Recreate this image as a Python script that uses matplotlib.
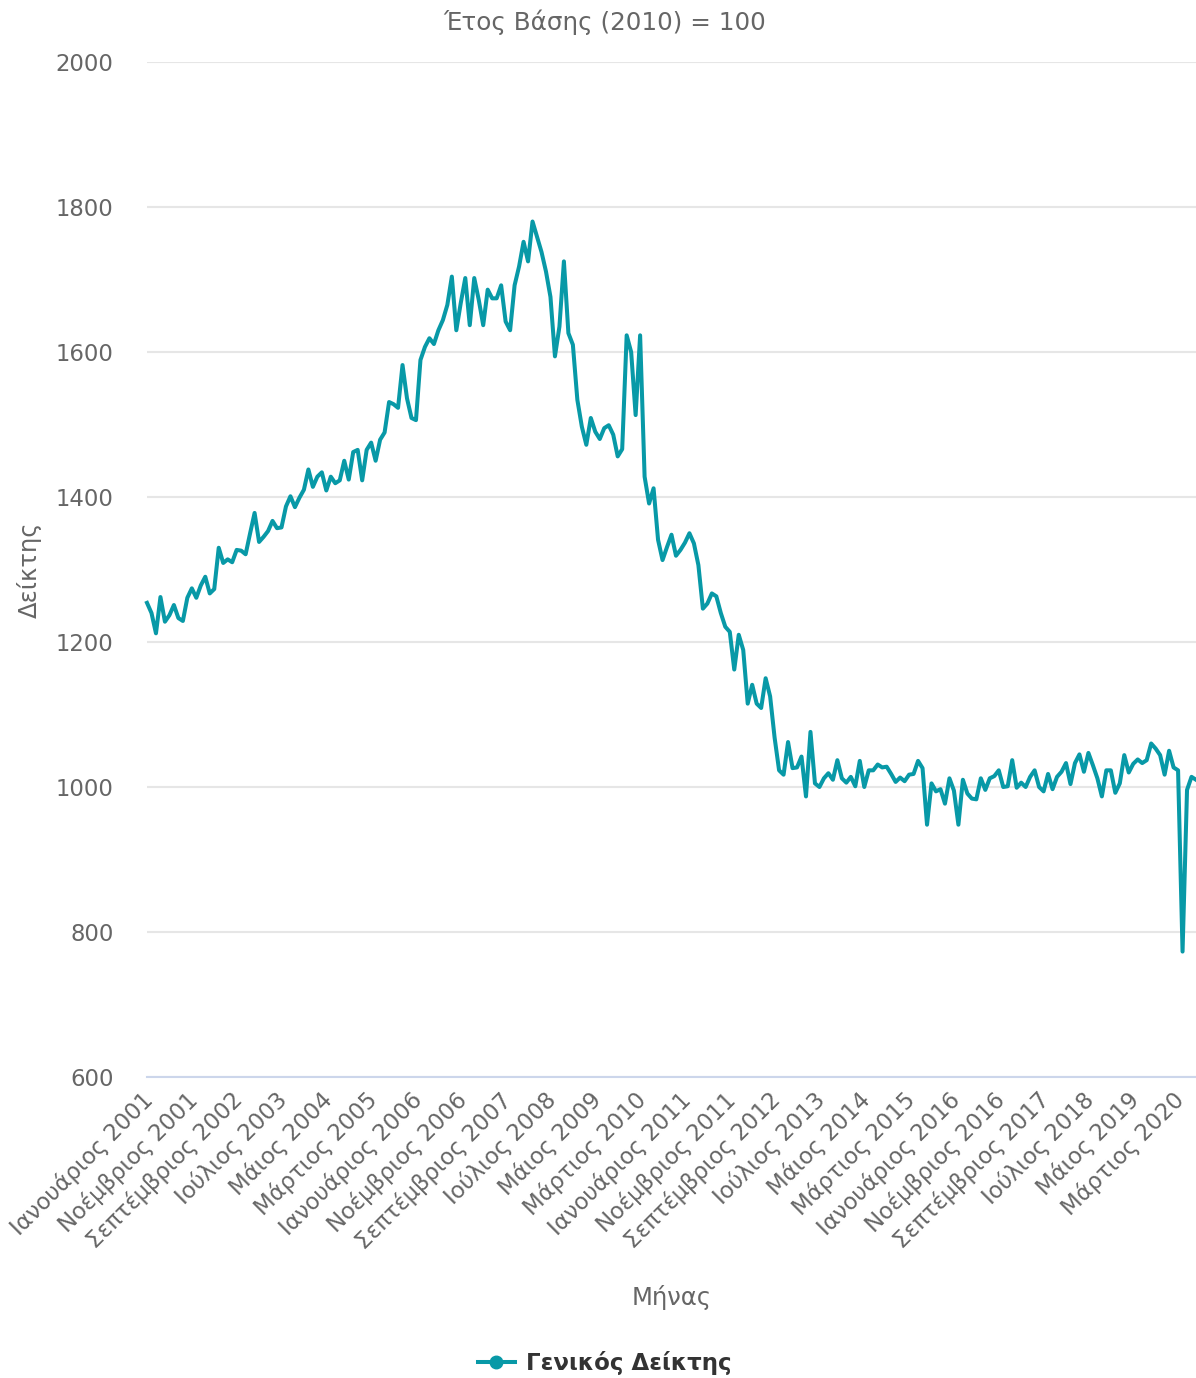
import matplotlib
matplotlib.use("Agg")
import matplotlib.pyplot as plt
import matplotlib.transforms as mtransforms
from matplotlib.lines import Line2D

plt.rcParams['font.family'] = ['DejaVu Sans']

# monthly values, Jan 2001 - Jul 2020
v2001 = [1254, 1240, 1212, 1262, 1228, 1237, 1251, 1233, 1229, 1261, 1274, 1261]
v2002 = [1278, 1290, 1267, 1273, 1330, 1309, 1314, 1310, 1327, 1326, 1321, 1350]
v2003 = [1378, 1338, 1345, 1353, 1367, 1357, 1358, 1387, 1401, 1386, 1399, 1410]
v2004 = [1438, 1414, 1428, 1434, 1409, 1428, 1419, 1423, 1450, 1424, 1462, 1465]
v2005 = [1423, 1465, 1475, 1450, 1479, 1489, 1531, 1528, 1523, 1582, 1536, 1509]
v2006 = [1506, 1589, 1607, 1619, 1611, 1630, 1644, 1665, 1704, 1630, 1668, 1702]
v2007 = [1637, 1702, 1672, 1637, 1686, 1674, 1674, 1692, 1642, 1630, 1692, 1718]
v2008 = [1752, 1725, 1780, 1759, 1738, 1711, 1676, 1594, 1635, 1725, 1626, 1610]
v2009 = [1534, 1497, 1472, 1509, 1490, 1480, 1495, 1499, 1486, 1456, 1466, 1623]
v2010 = [1600, 1513, 1623, 1428, 1391, 1412, 1341, 1313, 1331, 1348, 1319, 1327]
v2011 = [1337, 1350, 1336, 1306, 1246, 1253, 1267, 1263, 1240, 1221, 1214, 1162]
v2012 = [1210, 1189, 1115, 1141, 1115, 1109, 1150, 1125, 1068, 1023, 1017, 1062]
v2013 = [1026, 1027, 1042, 987, 1076, 1005, 1000, 1012, 1019, 1010, 1037, 1012]
v2014 = [1006, 1014, 1001, 1036, 1000, 1023, 1023, 1031, 1027, 1028, 1018, 1007]
v2015 = [1013, 1008, 1017, 1018, 1036, 1026, 948, 1005, 994, 997, 977, 1012]
v2016 = [995, 948, 1010, 991, 984, 983, 1012, 996, 1012, 1015, 1023, 1000]
v2017 = [1001, 1037, 999, 1006, 1000, 1014, 1023, 1000, 994, 1018, 997, 1014]
v2018 = [1021, 1033, 1004, 1033, 1045, 1021, 1047, 1030, 1012, 987, 1023, 1023]
v2019 = [992, 1005, 1044, 1020, 1032, 1038, 1033, 1037, 1060, 1053, 1044, 1017]
v2020 = [1050, 1027, 1023, 773, 996, 1014, 1010]

months = ["Ιανουάριος", "Φεβρουάριος", "Μάρτιος", "Απρίλιος", "Μάιος", "Ιούνιος",
          "Ιούλιος", "Αύγουστος", "Σεπτέμβριος", "Οκτώβριος", "Νοέμβριος", "Δεκέμβριος"]
start_year = 2001

values = (v2001 + v2002 + v2003 + v2004 + v2005 + v2006 + v2007 + v2008 + v2009 + v2010
          + v2011 + v2012 + v2013 + v2014 + v2015 + v2016 + v2017 + v2018 + v2019 + v2020)
labels = [f"{months[i % 12]} {start_year + i // 12}" for i in range(len(values))]
xs = list(range(len(values)))

color = '#0899a7'
grey = '#666666'

fig = plt.figure(figsize=(11.96, 13.78), dpi=100)
ax = fig.add_axes([147 / 1196, 1 - 1077 / 1378, 1049 / 1196, 1015 / 1378])

ax.plot(xs, values, color=color, lw=2.9, solid_joinstyle='round', clip_on=False, zorder=3)

ax.set_xlim(0, len(values) - 1)
ax.set_ylim(600, 2000)
ax.set_yticks(range(600, 2001, 200))
ax.grid(axis='y', color='#e6e6e6', lw=1.5)
ax.set_axisbelow(True)

tick_pos = xs[::10]
ax.set_xticks(tick_pos)
ax.set_xticklabels([labels[i] for i in tick_pos], rotation=45, ha='right', va='top',
                   rotation_mode='anchor')
ax.tick_params(axis='x', length=0, pad=8, labelsize=16.4, labelcolor=grey)
ax.tick_params(axis='y', length=0, pad=24, labelsize=16.4, labelcolor=grey)
# nudge rotated labels so their ends sit on the tick
shift = mtransforms.ScaledTranslation(-6 / 100, 0, fig.dpi_scale_trans)
for lbl in ax.get_xticklabels():
    lbl.set_transform(lbl.get_transform() + shift)

for s in ['top', 'right', 'left']:
    ax.spines[s].set_visible(False)
ax.spines['bottom'].set_color('#ccd6eb')
ax.spines['bottom'].set_linewidth(1.5)

ax.set_ylabel("Δείκτης", fontsize=17.5, color=grey)
ax.yaxis.set_label_coords(-0.100, 0.5)
ax.set_xlabel("Μήνας", fontsize=17.5, color=grey)
ax.xaxis.set_label_coords(0.50, -0.205)
fig.text(605 / 1196, 1 - 22 / 1378, "Έτος Βάσης (2010) = 100", ha='center', va='center',
         fontsize=17.7, color=grey)

handle = Line2D([], [], color=color, lw=2.9, marker='o', markersize=9)
fig.legend([handle], ["Γενικός Δείκτης"], loc='center', bbox_to_anchor=(605 / 1196, 1 - 1363 / 1378),
           frameon=False, prop={'size': 16.5, 'weight': 'bold'}, labelcolor='#333333',
           handlelength=1.6, handletextpad=0.5)

fig.savefig('out.png', dpi=100)
